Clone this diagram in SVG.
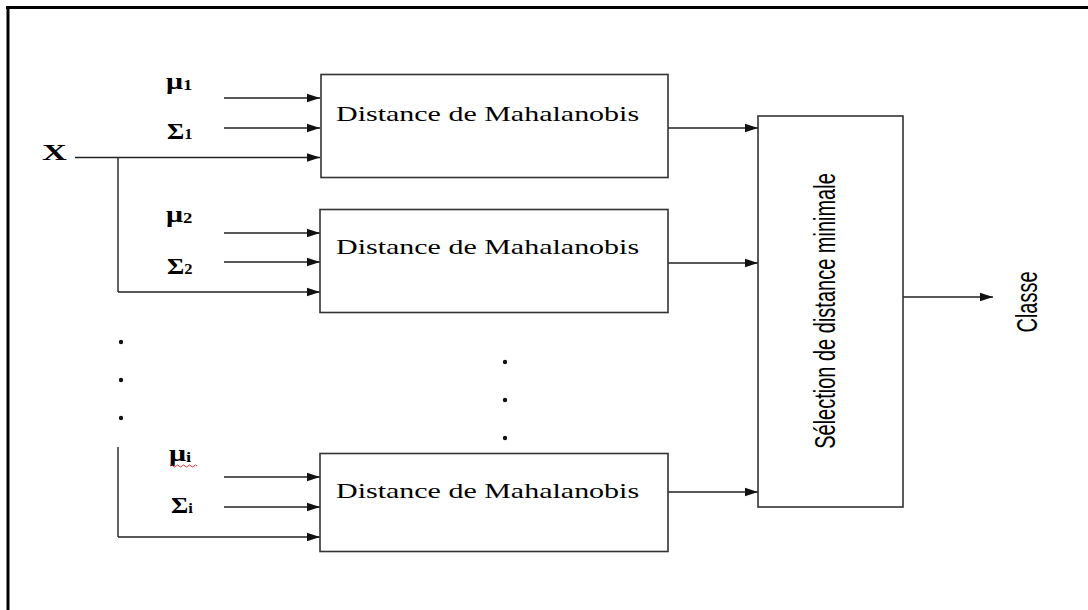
<svg xmlns="http://www.w3.org/2000/svg" width="1088" height="610" viewBox="0 0 1088 610">
<defs>
<marker id="arr" markerUnits="userSpaceOnUse" markerWidth="14" markerHeight="10" refX="13" refY="5" orient="auto">
<path d="M0,0.8 L13,5 L0,9.2 Z" fill="#111"/>
</marker>
<style>
.box{fill:#fff;stroke:#333;stroke-width:1.6}
.ln{fill:none;stroke:#222;stroke-width:1.4}
.arw{fill:none;stroke:#222;stroke-width:1.4;marker-end:url(#arr)}
.lbl{font-family:"Liberation Serif","Times New Roman",serif;font-size:20px;fill:#000}
.sym{font-family:"Liberation Serif","Times New Roman",serif;font-weight:bold;fill:#000}
.vt{font-family:"Liberation Sans",Arial,sans-serif;font-size:20px;fill:#000}
.dot{fill:#111}
</style>
</defs>
<rect width="1088" height="610" fill="#fff"/>
<g id="frame">
<line x1="6" y1="7.5" x2="1088" y2="7.5" stroke="#000" stroke-width="3"/>
<line x1="8" y1="6" x2="8" y2="610" stroke="#000" stroke-width="3"/>
</g>
<g id="input-labels">
<text class="sym" font-size="23" transform="translate(42,160) scale(1.5,1)">X</text>
<text class="sym" font-size="24" transform="translate(166,89) scale(1.25,1)">μ<tspan font-size="15" dy="1">1</tspan></text>
<text class="sym" font-size="24" transform="translate(167,139) scale(1.1,1)">Σ<tspan font-size="15" dy="0">1</tspan></text>
<text class="sym" font-size="24" transform="translate(166,222) scale(1.25,1)">μ<tspan font-size="15" dy="1">2</tspan></text>
<text class="sym" font-size="24" transform="translate(167,274) scale(1.1,1)">Σ<tspan font-size="15" dy="0">2</tspan></text>
<text class="sym" font-size="24" transform="translate(169,461) scale(1.25,1)">μ<tspan font-size="15" dy="1">i</tspan></text>
<path d="M170,466 q1.5,-2 3,0 t3,0 t3,0 t3,0 t3,0 t3,0 t3,0 t3,0 t3,0" fill="none" stroke="#e02020" stroke-width="0.9"/>
<text class="sym" font-size="24" transform="translate(171,513) scale(1.1,1)">Σ<tspan font-size="15" dy="0">i</tspan></text>
</g>
<g id="connectors">
<line class="ln" x1="75" y1="157.5" x2="118" y2="157.5"/>
<line class="arw" x1="118" y1="157.5" x2="320" y2="157.5"/>
<line class="ln" x1="118" y1="157.5" x2="118" y2="292"/>
<line class="arw" x1="118" y1="292" x2="320" y2="292"/>
<line class="ln" x1="118" y1="447" x2="118" y2="537"/>
<line class="arw" x1="118" y1="537" x2="320" y2="537"/>
<line class="arw" x1="224" y1="98" x2="320" y2="98"/>
<line class="arw" x1="224" y1="128" x2="320" y2="128"/>
<line class="arw" x1="224" y1="233" x2="320" y2="233"/>
<line class="arw" x1="224" y1="262" x2="320" y2="262"/>
<line class="arw" x1="224" y1="477" x2="320" y2="477"/>
<line class="arw" x1="224" y1="507" x2="320" y2="507"/>
<line class="arw" x1="668" y1="128" x2="758" y2="128"/>
<line class="arw" x1="668" y1="263" x2="758" y2="263"/>
<line class="arw" x1="668" y1="492" x2="758" y2="492"/>
<line class="arw" x1="903" y1="297" x2="993" y2="297"/>
</g>
<g id="dots">
<circle class="dot" cx="121" cy="342" r="2.2"/>
<circle class="dot" cx="121" cy="380" r="2.2"/>
<circle class="dot" cx="121" cy="418" r="2.2"/>
<circle class="dot" cx="505" cy="362" r="2.2"/>
<circle class="dot" cx="505" cy="400" r="2.2"/>
<circle class="dot" cx="505" cy="438" r="2.2"/>
</g>
<g id="node-mahalanobis-1">
<rect class="box" x="321" y="74.5" width="347" height="103"/>
<text class="lbl" transform="translate(336,121) scale(1.5,1)">Distance de Mahalanobis</text>
</g>
<g id="node-mahalanobis-2">
<rect class="box" x="320" y="209.5" width="348" height="103"/>
<text class="lbl" transform="translate(336,254) scale(1.5,1)">Distance de Mahalanobis</text>
</g>
<g id="node-mahalanobis-i">
<rect class="box" x="320" y="453.5" width="348" height="98"/>
<text class="lbl" transform="translate(336,498) scale(1.5,1)">Distance de Mahalanobis</text>
</g>
<g id="node-selection">
<rect class="box" x="758" y="116" width="145" height="391"/>
<text class="vt" text-anchor="middle" transform="translate(835,311) scale(1.5,1) rotate(-90)">Sélection de distance minimale</text>
</g>
<g id="node-classe">
<text class="vt" font-size="19" text-anchor="middle" transform="translate(1037,302) scale(1.5,1) rotate(-90)">Classe</text>
</g>
</svg>
